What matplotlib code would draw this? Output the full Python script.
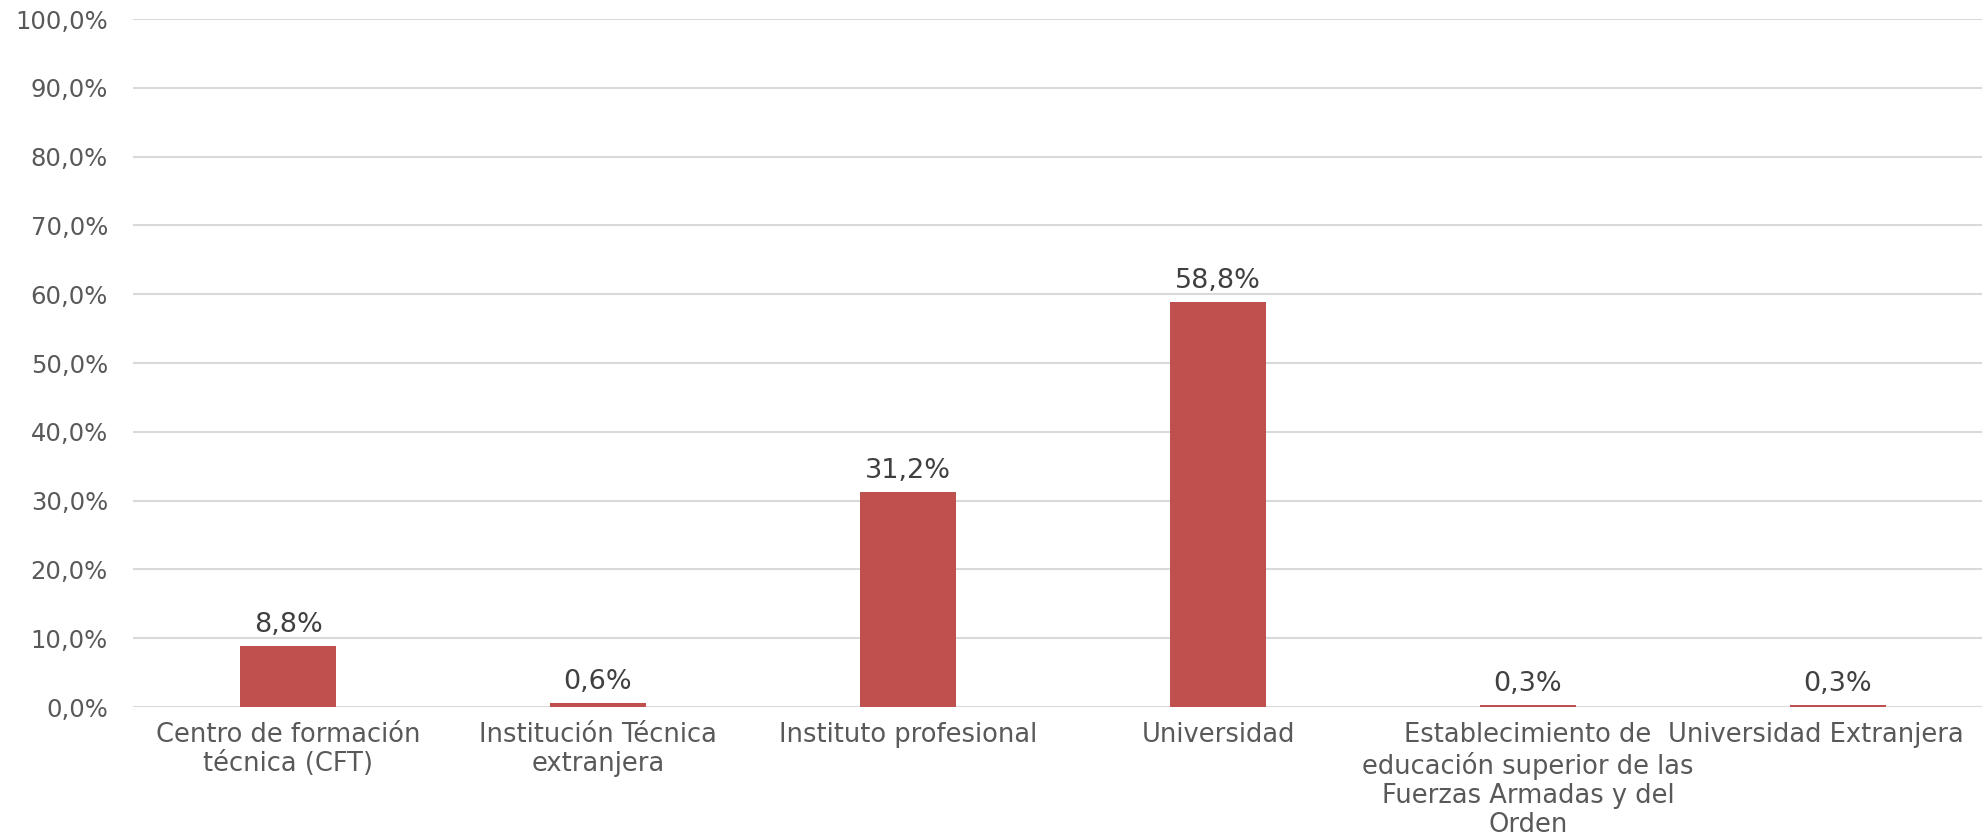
import matplotlib
matplotlib.use("Agg")
import matplotlib.pyplot as plt
import matplotlib.transforms as mtransforms
import numpy as np

########################################################
# data
categories = ["Centro de formación\ntécnica (CFT)",
              "Institución Técnica\nextranjera",
              "Instituto profesional",
              "Universidad",
              "Establecimiento de\neducación superior de las\nFuerzas Armadas y del\nOrden",
              "Universidad Extranjera"]
values = [8.8, 0.6, 31.2, 58.8, 0.3, 0.3]
yticks = [0, 10, 20, 30, 40, 50, 60, 70, 80, 90, 100]

########################################################
BAR_COLOR = '#C0504D'
GRID_COLOR = '#D9D9D9'
TICK_COLOR = '#595959'
LABEL_COLOR = '#404040'

plt.rcParams['font.family'] = ['DejaVu Sans']

fig = plt.figure(figsize=[19.82, 8.38], dpi=100)
ax = fig.add_axes([133/1982, 131/838, 1860/1982, 688/838])

x = np.arange(len(categories))
bars = ax.bar(x, values, width=0.31, color=BAR_COLOR, zorder=3)

for b, v in zip(bars, values):
    ax.annotate(f"{v:.1f}%".replace('.', ','), (b.get_x() + b.get_width()/2, v),
                xytext=(0, 6), textcoords='offset points',
                ha='center', va='bottom', fontsize=19.5, color=LABEL_COLOR)

ax.set_xlim(-0.5, len(categories) - 0.5)
ax.set_ylim(0, 100)
ax.set_yticks(yticks)
ax.set_yticklabels([f"{t:.1f}%".replace('.', ',') for t in yticks])
ax.set_xticks(x)
ax.set_xticklabels(categories, linespacing=1.16)

ax.tick_params(axis='y', length=0, pad=18, labelsize=17.5, labelcolor=TICK_COLOR)
ax.tick_params(axis='x', length=0, pad=11, labelsize=18.5, labelcolor=TICK_COLOR)
ax.grid(axis='y', color=GRID_COLOR, linewidth=1.5, zorder=0)
for s in ax.spines.values():
    s.set_visible(False)

# last label pushed left so it fits inside the figure (like excel does)
last = ax.get_xticklabels()[-1]
last.set_transform(last.get_transform() + mtransforms.ScaledTranslation(-0.22, 0, fig.dpi_scale_trans))

fig.savefig('out.png', dpi=100)
